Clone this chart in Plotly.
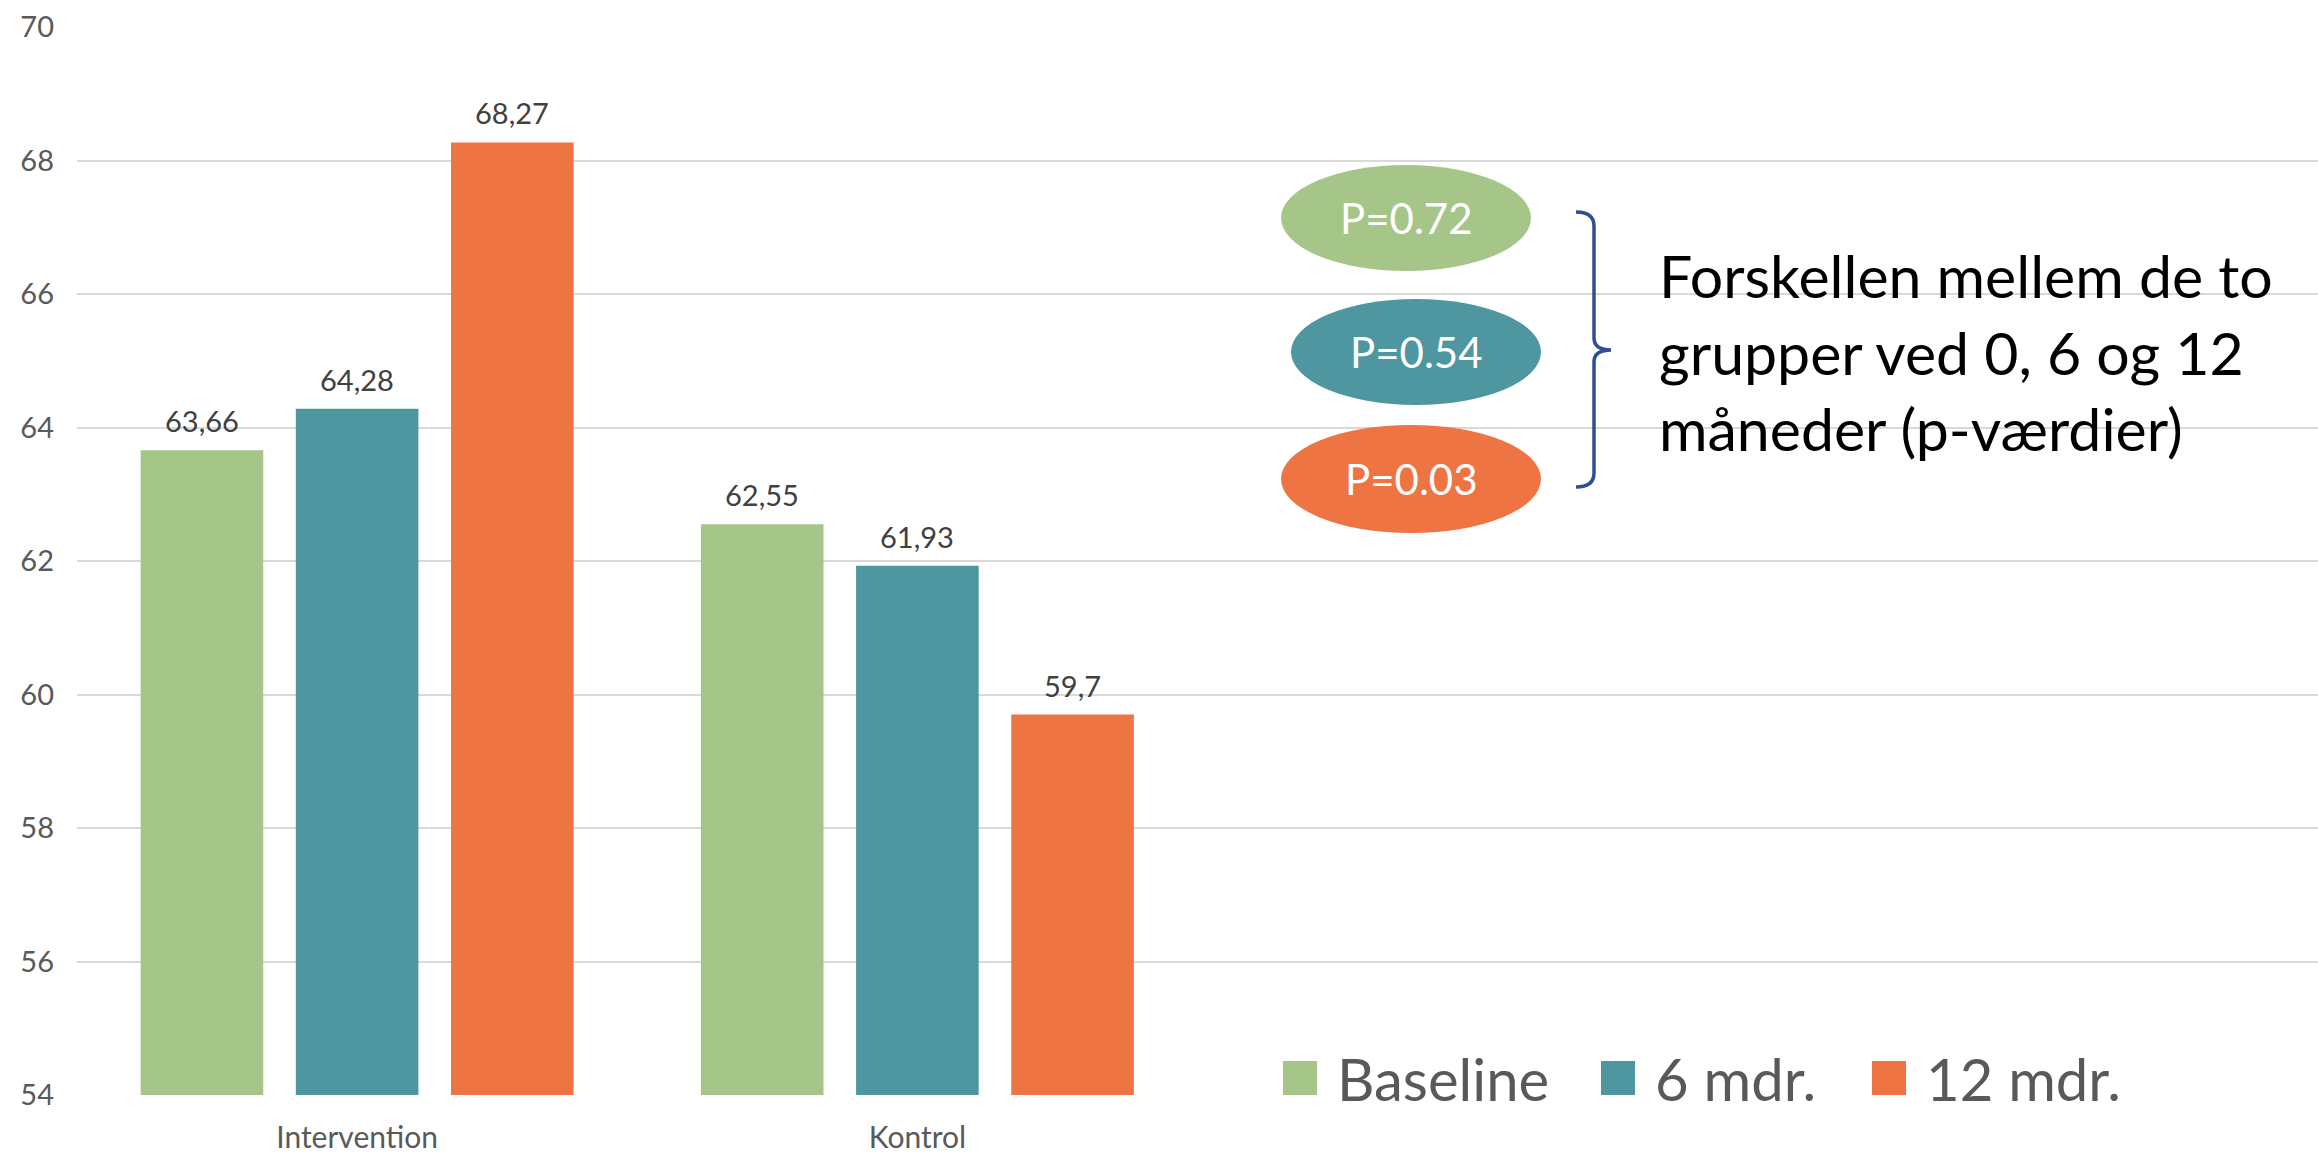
import plotly.graph_objects as go

# ---- data ----
categories = ["Intervention", "Kontrol"]
series_names = ["Baseline", "6 mdr.", "12 mdr."]
baseline = [63.66, 62.55]
six_months = [64.28, 61.93]
twelve_months = [68.27, 59.7]
p_values = [0.72, 0.54, 0.03]
annotation_text = "Forskellen mellem de to<br>grupper ved 0, 6 og 12<br>måneder (p-værdier)"
y_ticks = [54, 56, 58, 60, 62, 64, 66, 68, 70]

colors = ["#A5C589", "#4E96A0", "#EE7444"]
FONT = "Lato"

W, H = 2318, 1153
ML, MR, MT, MB = 77, 0, 27, 58
PW = W - ML - MR
PH = H - MT - MB


def px(x):
    return (x - ML) / PW


def py(y):
    return (H - MB - y) / PH


BARGAP = 0.169
BARGROUPGAP = 0.21

fig = go.Figure()
series = [baseline, six_months, twelve_months]
xs = list(range(len(categories)))
for name, vals, col in zip(series_names, series, colors):
    fig.add_trace(go.Bar(x=xs, y=vals, name=name, marker=dict(color=col, line=dict(width=0)),
                         showlegend=False))

# data labels
pitch = (1 - BARGAP) / len(series)
for k, vals in enumerate(series):
    for i, v in enumerate(vals):
        fig.add_annotation(x=i + (k - 1) * pitch, y=v, xref="x", yref="y",
                           text=f"{v:g}".replace(".", ","), showarrow=False,
                           yanchor="bottom", yshift=10,
                           font=dict(family=FONT, size=29, color="#404040"))

shapes = []
# ellipses with p-values
ell = [(1406, 218, 125, 53), (1416, 352, 125, 53), (1411, 479, 130, 54)]
for (cx, cy, rx, ry), col, p in zip(ell, colors, p_values):
    shapes.append(dict(type="circle", xref="paper", yref="paper",
                       x0=px(cx - rx), x1=px(cx + rx), y0=py(cy + ry), y1=py(cy - ry),
                       fillcolor=col, line=dict(width=0), layer="above"))
    fig.add_annotation(x=px(cx), y=py(cy), xref="paper", yref="paper",
                       text=f"P={p:.2f}", showarrow=False,
                       xanchor="center", yanchor="middle",
                       font=dict(family=FONT, size=42, color="white"))

# brace
def P(x, y):
    return f"{px(x):.5f},{py(y):.5f}"

xl, xv, xt = 1576, 1594, 1611
yt, ym, yb = 212, 350, 487
path = (f"M{P(xl, yt)} Q{P(xv, yt)} {P(xv, yt + 14)} L{P(xv, ym - 12)} "
        f"Q{P(xv, ym)} {P(xt, ym)} Q{P(xv, ym)} {P(xv, ym + 12)} "
        f"L{P(xv, yb - 14)} Q{P(xv, yb)} {P(xl, yb)}")
shapes.append(dict(type="path", xref="paper", yref="paper", path=path,
                   line=dict(color="#2F4F91", width=3.5), layer="above"))

fig.add_annotation(x=px(1657), y=py(238), xref="paper", yref="paper",
                   text=annotation_text, showarrow=False, xanchor="left", yanchor="top",
                   align="left", font=dict(family=FONT, size=59, color="#000000"))

# manual legend
leg_sq_x = [1283, 1601, 1872]
for name, col, sx in zip(series_names, colors, leg_sq_x):
    shapes.append(dict(type="rect", xref="paper", yref="paper",
                       x0=px(sx), x1=px(sx + 34), y0=py(1095), y1=py(1061),
                       fillcolor=col, line=dict(width=0), layer="above"))
    fig.add_annotation(x=px(sx + 52), y=py(1078), xref="paper", yref="paper",
                       text=name, showarrow=False, xanchor="left", yanchor="middle",
                       font=dict(family=FONT, size=58, color="#595959"))

fig.update_layout(
    width=W, height=H,
    margin=dict(l=ML, r=MR, t=MT, b=MB, pad=0),
    paper_bgcolor="white", plot_bgcolor="white",
    barmode="group", bargap=BARGAP, bargroupgap=BARGROUPGAP,
    shapes=shapes,
    font=dict(family=FONT, color="#595959"),
    xaxis=dict(range=[-0.5, 3.5], tickvals=xs, ticktext=categories, showgrid=False,
               zeroline=False, showline=False, ticks="", ticklabelstandoff=22,
               tickfont=dict(family=FONT, size=30, color="#595959")),
    yaxis=dict(range=[54, 70], tickvals=y_ticks, showgrid=True, gridcolor="#D9D9D9",
               gridwidth=2, zeroline=False, showline=False, ticks="",
               ticklabelstandoff=22,
               tickfont=dict(family=FONT, size=29, color="#595959")),
)

fig.write_html("out.html")
